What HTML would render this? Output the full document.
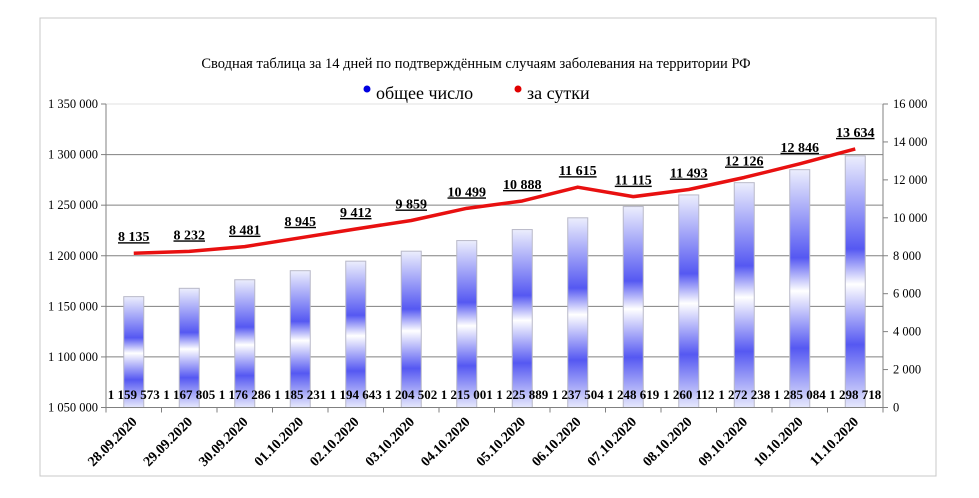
<!DOCTYPE html>
<html><head><meta charset="utf-8"><style>
body{margin:0;background:#fff;}
svg{display:block;font-family:"Liberation Serif","Noto Serif CJK SC",serif;}
</style></head><body>
<svg id="chart" width="979" height="498" viewBox="0 0 979 498" xmlns="http://www.w3.org/2000/svg">
<defs>
<linearGradient id="barGrad" x1="0" y1="0" x2="0" y2="1">
<stop offset="0" stop-color="#eceefd"/>
<stop offset="0.37" stop-color="#5558f2"/>
<stop offset="0.51" stop-color="#ffffff"/>
<stop offset="0.75" stop-color="#5558f2"/>
<stop offset="1" stop-color="#e6e8fc"/>
</linearGradient>
</defs>
<rect x="40" y="18" width="896" height="458" fill="#fff" stroke="#c8c8c8" stroke-width="1"/>
<text x="476" y="68" text-anchor="middle" font-size="14.5">Сводная таблица за 14 дней по подтверждённым случаям заболевания на территории РФ</text>
<g>
<circle cx="367" cy="89" r="3.5" fill="#0000e0"/>
<text x="376" y="99" font-size="18">общее число</text>
<circle cx="518" cy="89" r="3.5" fill="#e00000"/>
<text x="527" y="99" font-size="18">за сутки</text>
</g>
<g id="grid"></g><g id="bars"></g><g id="axes"></g><g id="line"></g><g id="labels"></g>
</svg>
<script>
const categories=["28.09.2020","29.09.2020","30.09.2020","01.10.2020","02.10.2020","03.10.2020","04.10.2020","05.10.2020","06.10.2020","07.10.2020","08.10.2020","09.10.2020","10.10.2020","11.10.2020"];
const totalCases=[1159573,1167805,1176286,1185231,1194643,1204502,1215001,1225889,1237504,1248619,1260112,1272238,1285084,1298718];
const dailyCases=[8135,8232,8481,8945,9412,9859,10499,10888,11615,11115,11493,12126,12846,13634];
const leftTicks=[1050000,1100000,1150000,1200000,1250000,1300000,1350000];
const rightTicks=[0,2000,4000,6000,8000,10000,12000,14000,16000];

const NS="http://www.w3.org/2000/svg";
const X0=106,X1=883,Y0=407.5,Y1=104;
const bw=(X1-X0)/categories.length;
const yL=v=>Y0-(v-1050000)/300000*(Y0-Y1);
const yR=v=>Y0-v/16000*(Y0-Y1);
const xC=i=>X0+bw*(i+0.5);
const fmt=v=>String(v).replace(/\B(?=(\d{3})+(?!\d))/g," ");
function mk(tag,attrs,parent,text){const e=document.createElementNS(NS,tag);for(const k in attrs)e.setAttribute(k,attrs[k]);if(text!==undefined)e.textContent=text;document.getElementById(parent).appendChild(e);return e;}

leftTicks.forEach((t,i)=>{
 const y=yL(t);
 if(i>0){const g=mk("line",{x1:X0,x2:X1,y1:y,y2:y,stroke:i===leftTicks.length-1?"#e0e0e0":"#808080","stroke-width":1},"grid");
 
 }
 mk("line",{x1:X0-5,x2:X0,y1:y,y2:y,stroke:"#808080"},"axes");
 const tl=mk("text",{x:X0-8,y:y+4,"text-anchor":"end","font-size":12.5},"axes",fmt(t));
 
 
});
rightTicks.forEach(t=>{
 const y=yR(t);
 mk("line",{x1:X1,x2:X1+5,y1:y,y2:y,stroke:"#808080"},"axes");
 const tl=mk("text",{x:X1+10,y:y+4,"font-size":12.5},"axes",fmt(t));
 
 
});
mk("line",{x1:X0,x2:X0,y1:Y1,y2:Y0,stroke:"#808080"},"axes");
mk("line",{x1:X1,x2:X1,y1:Y1,y2:Y0,stroke:"#808080"},"axes");
mk("line",{x1:X0,x2:X1,y1:Y0,y2:Y0,stroke:"#808080"},"axes");

categories.forEach((c,i)=>{
 const x=xC(i);
 const bx=X0+bw*i;
 mk("line",{x1:bx,x2:bx,y1:Y0,y2:Y0+5,stroke:"#808080"},"axes");
 if(i===categories.length-1) mk("line",{x1:X1,x2:X1,y1:Y0,y2:Y0+5,stroke:"#808080"},"axes");
 const yt=yL(totalCases[i]);
 const b=mk("rect",{x:x-10,y:yt,width:20,height:Y0-yt,fill:"url(#barGrad)",stroke:"#b8b8c8","stroke-width":1},"bars");
 
 
 const bl=mk("text",{x:x,y:399,"text-anchor":"middle","font-size":13,"font-weight":"bold"},"labels",fmt(totalCases[i]));
 
 
 const xl=mk("text",{x:0,y:0,"text-anchor":"end","font-size":14,"font-weight":"bold",transform:`translate(${x+4},${Y0+15}) rotate(-45)`},"labels",c);
 
 
 const yd=yR(dailyCases[i]);
 const dl=mk("text",{x:x,y:yd-12,"text-anchor":"middle","font-size":14,"font-weight":"bold","text-decoration":"underline"},"labels",fmt(dailyCases[i]));
 
 
});
const pts=dailyCases.map((v,i)=>xC(i)+","+yR(v)).join(" ");
const pl=mk("polyline",{points:pts,fill:"none",stroke:"#e81010","stroke-width":3.5,"stroke-linejoin":"round"},"line");


</script>
</body></html>
